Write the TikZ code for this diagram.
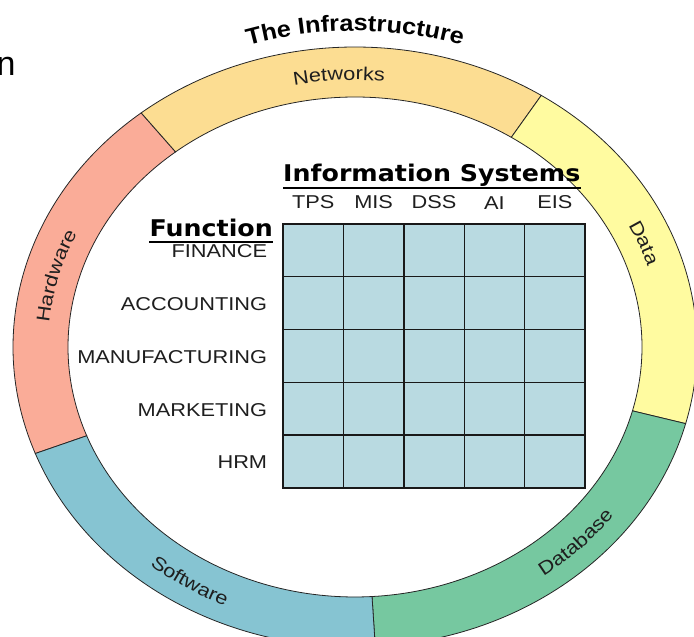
\documentclass[tikz,border=0pt]{standalone}
\usepackage{fontspec}
\setmainfont{Liberation Sans}
\newfontfamily\labelfont[FakeStretch=1.17]{Liberation Sans}
\newfontfamily\titlefont[FakeStretch=1.1]{Liberation Sans Bold}
\newfontfamily\headfont[FakeStretch=1.1]{DejaVu Sans Bold}
\usetikzlibrary{positioning,decorations.text}
\definecolor{netcol}{HTML}{FCDD92}
\definecolor{hwcol}{HTML}{FAAC98}
\definecolor{datacol}{HTML}{FFFBA0}
\definecolor{dbcol}{HTML}{76C8A0}
\definecolor{swcol}{HTML}{86C4D2}
\definecolor{cellcol}{HTML}{B9DAE1}
\definecolor{inkcol}{HTML}{1E1E1E}
\newcommand\ringtext{\labelfont\fontsize{18.6}{20}\selectfont\color{inkcol}}
\newcommand\ringpart[3]{%
  \draw[ring, fill=#3] (#1:342 and 300) arc[start angle=#1, end angle=#2, x radius=342, y radius=300]
    -- (#2:287 and 250) arc[start angle=#2, end angle=#1, x radius=287, y radius=250] -- cycle;}
\newcommand\ringlabel[5]{%
  \path[decorate, decoration={text along path, text align=center, text={|\ringtext|#5}}]
    (#1:#3 and #4) arc[start angle=#1, end angle=#2, x radius=#3, y radius=#4];}
\tikzset{
  ring/.style={draw=black!85, line width=0.8pt},
  cell/.style={draw=black!90, line width=1.4pt, fill=cellcol, minimum width=60.4pt, minimum height=52.8pt, inner sep=0pt},
  func/.style={text=inkcol, font=\labelfont\fontsize{18.6}{20}\selectfont, inner sep=0pt},
  head/.style={text=black, font=\headfont\fontsize{23}{26}\selectfont, inner sep=0pt},
  uline/.style={line width=2.4pt}
}
\begin{document}
\begin{tikzpicture}[x=1pt, y=1pt]
    \useasboundingbox (0,0) rectangle (694,637);
    \node[anchor=base west, inner sep=0pt, font=\fontsize{34}{40}\selectfont] (frag) at (-3.5,561) {n};
    \begin{scope}[shift={(355,290)}]
        \ringpart{128.7}{200.8}{hwcol}
        \ringpart{57}{128.7}{netcol}
        \ringpart{-14.8}{57}{datacol}
        \ringpart{-86.6}{-14.8}{dbcol}
        \ringpart{200.8}{273.4}{swcol}
        \ringlabel{113}{73}{306}{267}{Networks}
        \ringlabel{185}{145}{307}{267}{Hardware}
        \ringlabel{42}{2}{307}{267}{Data}
        \ringlabel{218}{258}{322}{283}{Software}
        \ringlabel{-65}{-25}{322}{283}{Database}
        \path[decorate, decoration={text along path, text align=center,
            text={|\titlefont\fontsize{23}{26}\selectfont|The Infrastructure}}]
            (125:358 and 316) arc[start angle=125, end angle=55, x radius=358, y radius=316];
    \end{scope}
    \foreach \r in {1,...,5}
        \foreach \c in {1,...,5}
            \node[cell] (cell-\r-\c) at ({283+60.4*(\c-0.5)}, {413-52.8*(\r-0.5)}) {};
    \foreach \s [count=\c] in {TPS,MIS,DSS,AI,EIS}
        \node[func, above=14pt of cell-1-\c] (sys-\c) {\s};
    \foreach \f [count=\r] in {FINANCE,ACCOUNTING,MANUFACTURING,MARKETING,HRM}
        \node[func, left=15pt of cell-\r-1, yshift=-1pt] (fn-\r) {\f};
    \node[head, anchor=base west] (isys) at (283,455) {Information Systems};
    \draw[uline] ([yshift=-6pt]isys.base west) -- ([yshift=-6pt]isys.base east);
    \node[head, anchor=base east] (fhead) at (273,400) {Function};
    \draw[uline] ([yshift=-5pt]fhead.base west) -- ([yshift=-5pt]fhead.base east);
\end{tikzpicture}
\end{document}
